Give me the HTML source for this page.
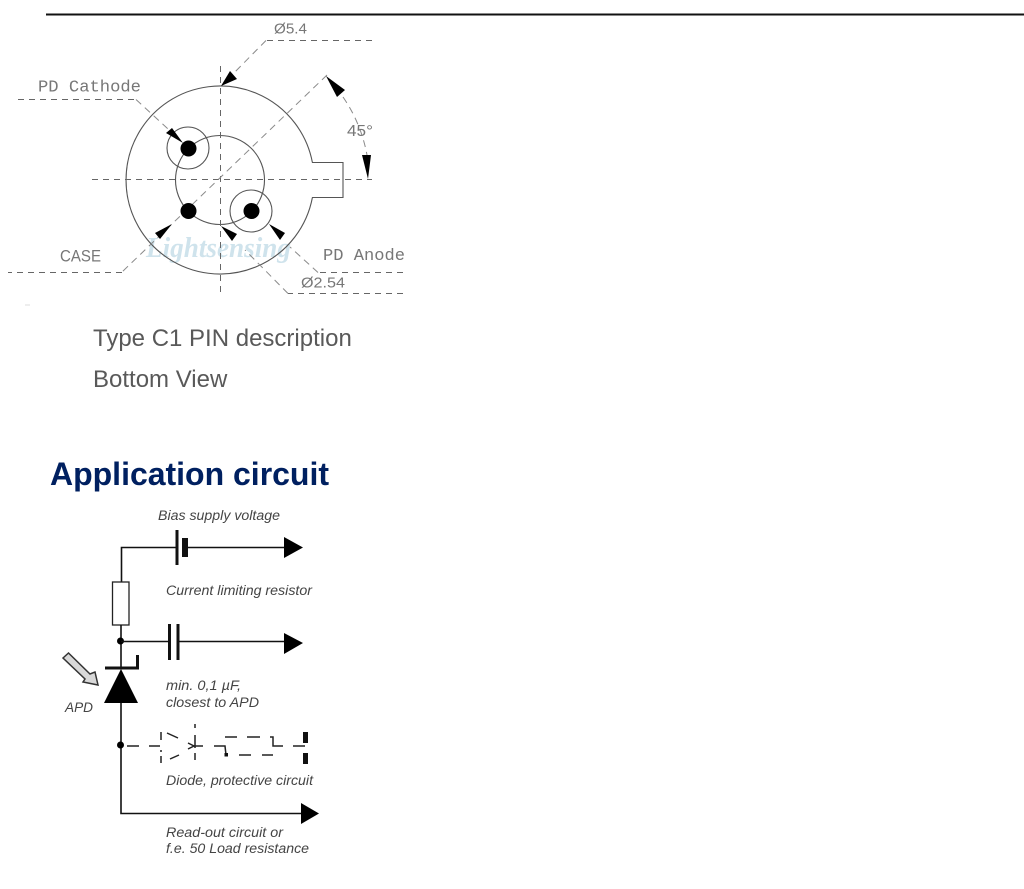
<!DOCTYPE html>
<html>
<head>
<meta charset="utf-8">
<style>
html,body{margin:0;padding:0;background:#fff;width:1024px;height:889px;overflow:hidden}
svg{display:block}
text{font-family:"Liberation Sans",sans-serif}
.d{fill:none;stroke:#666;stroke-width:1;stroke-dasharray:6 5}
.e{fill:none;stroke:#8a8a8a;stroke-width:1;stroke-dasharray:7 5}
.l{fill:none;stroke:#555;stroke-width:1.1}
.c{fill:#777;font-family:"Liberation Mono",monospace;font-size:17px}
.n{fill:#777;font-size:15px}
.i{fill:#444;font-size:13.5px;font-style:italic}
.b{fill:none;stroke:#111;stroke-width:1.6}
.p{fill:none;stroke:#222;stroke-width:1.5}
</style>
</head>
<body>
<svg width="1024" height="889" viewBox="0 0 1024 889" xmlns="http://www.w3.org/2000/svg">
<rect x="46" y="13.500" width="978" height="2" fill="#111"/>

<!-- Watermark -->
<text x="146" y="257" style="font-family:'Liberation Serif',serif" font-size="29" font-style="italic" font-weight="bold" fill="#cfe3ec" textLength="145" lengthAdjust="spacingAndGlyphs">Lightsensing</text>

<!-- Package outline -->
<path class="l" d="M312.400 162.500 A94 94 0 1 0 312.400 197.500"/>
<path class="l" d="M312 162.500H343V197.500H312"/>
<circle class="l" cx="220" cy="180" r="44.500"/>
<circle class="l" cx="188" cy="148" r="21"/>
<circle class="l" cx="251" cy="211" r="21"/>

<!-- Dashed construction lines -->
<path class="d" d="M92 179.500H372"/>
<path class="d" d="M220.500 66V292"/>
<path class="e" d="M327 75L122 272"/>
<path class="d" d="M122 272.500H8"/>
<path class="d" d="M372 40.500H266"/>
<path class="e" d="M266 40.500L225 82"/>
<path class="d" d="M18 99.500H136"/>
<path class="e" d="M136 99.500L180 140"/>
<path class="d" d="M403 272.500H318"/>
<path class="e" d="M318 272.500L290 247"/>
<path class="d" d="M403 293.500H288"/>
<path class="e" d="M288 293.500L245 250"/>
<path class="e" d="M343 97A150 150 0 0 1 367 155"/>

<!-- Pins -->
<circle cx="188.500" cy="148.500" r="8" fill="#000"/>
<circle cx="188.500" cy="211" r="8" fill="#000"/>
<circle cx="251.500" cy="211" r="8" fill="#000"/>

<!-- Arrowheads -->
<g fill="#000">
<polygon points="221,86 230,71 237,79"/>
<polygon points="326,76 337,97 345,90"/>
<polygon points="368,179 362,155 371,155"/>
<polygon points="183,143 166,133 172,128"/>
<polygon points="172,224 155,233 160,239"/>
<polygon points="269,224 285,233 280,240"/>
<polygon points="221,226 237,234 232,241"/>
</g>

<!-- Drawing labels -->
<text class="c" x="38" y="91.500" textLength="103" lengthAdjust="spacingAndGlyphs">PD Cathode</text>
<text class="n" x="274" y="33.500" textLength="33" lengthAdjust="spacingAndGlyphs">Ø5.4</text>
<text class="n" x="347" y="136" style="font-size:16px" textLength="26" lengthAdjust="spacingAndGlyphs">45°</text>
<text class="n" x="60" y="261.500" style="font-size:17px" textLength="41" lengthAdjust="spacingAndGlyphs">CASE</text>
<text class="c" x="323" y="260" textLength="82" lengthAdjust="spacingAndGlyphs">PD Anode</text>
<text class="n" x="301" y="287.500" textLength="44" lengthAdjust="spacingAndGlyphs">Ø2.54</text>
<rect x="25" y="304.500" width="5" height="1" fill="#ddd"/>

<!-- Text -->
<text x="93" y="346" font-size="24" fill="#595959">Type C1 PIN description</text>
<text x="93" y="387" font-size="24" fill="#595959">Bottom View</text>
<text x="50" y="485" font-size="32" font-weight="bold" fill="#002060" textLength="279" lengthAdjust="spacing">Application circuit</text>

<!-- Circuit wires -->
<path class="b" d="M121.500 582V547.500H177"/>
<path class="b" d="M187 547.500H285"/>
<rect x="175.500" y="530" width="3" height="35" fill="#111"/>
<rect x="182" y="538" width="6" height="19" fill="#111"/>
<polygon points="284,537 303,547.500 284,558" fill="#000"/>

<rect x="112.500" y="582" width="16.500" height="43" fill="#fff" stroke="#222" stroke-width="1.300"/>
<path class="b" d="M121 625V669"/>
<circle cx="120.500" cy="641" r="3.500" fill="#000"/>
<path class="b" d="M121 641.500H169"/>
<path class="b" d="M178 641.500H285"/>
<rect x="168" y="624" width="3" height="36" fill="#111"/>
<rect x="176.500" y="624" width="3" height="36" fill="#111"/>
<polygon points="284,633 303,643 284,654" fill="#000"/>

<!-- APD -->
<rect x="105" y="666.500" width="34" height="3" fill="#111"/>
<rect x="136" y="655" width="3" height="14" fill="#111"/>
<polygon points="121,669 104,703 138,703" fill="#000"/>
<path class="b" d="M121 703V813.500H302"/>
<polygon points="301,803 319,813.500 301,824" fill="#000"/>
<polygon points="63,658 68.500,653 90,674 95,672 98,685 83,682 85,679" fill="#d8d8d8" stroke="#333" stroke-width="1.500"/>

<!-- Protective circuit (dashed) -->
<circle cx="120.500" cy="745" r="3.500" fill="#000"/>
<g class="p">
<path class="p" d="M127 746H139M149 746H160M161 732V740M161 750V752M161 756V763"/>
<path class="p" d="M167 733L178 738M170 759L179 755M188 743L194 746L188 749"/>
<path class="p" d="M195 724V728M195 735V748M195 753V760M194 746H203M214 746H225L226 755"/>
<path class="p" d="M225 737H237M247 737H260M270 737H273V746H283M293 746H305"/>
<path class="p" d="M239 755H251M262 755H273"/>
</g>
<rect x="224.500" y="753" width="3.500" height="3.500" fill="#111"/>
<rect x="303" y="732" width="5" height="11" fill="#111"/>
<rect x="303" y="753" width="5" height="11" fill="#111"/>

<!-- Circuit labels -->
<text class="i" x="158" y="520" textLength="122" lengthAdjust="spacingAndGlyphs">Bias supply voltage</text>
<text class="i" x="166" y="595" textLength="146" lengthAdjust="spacingAndGlyphs">Current limiting resistor</text>
<text class="i" x="166" y="690" textLength="75" lengthAdjust="spacingAndGlyphs">min. 0,1 µF,</text>
<text class="i" x="166" y="707" textLength="93" lengthAdjust="spacingAndGlyphs">closest to APD</text>
<text class="i" x="65" y="712" textLength="28" lengthAdjust="spacingAndGlyphs">APD</text>
<text class="i" x="166" y="785" textLength="147" lengthAdjust="spacingAndGlyphs">Diode, protective circuit</text>
<text class="i" x="166" y="837" textLength="117" lengthAdjust="spacingAndGlyphs">Read-out circuit or</text>
<text class="i" x="166" y="853" textLength="143" lengthAdjust="spacingAndGlyphs">f.e. 50 Load resistance</text>
</svg>
</body>
</html>
